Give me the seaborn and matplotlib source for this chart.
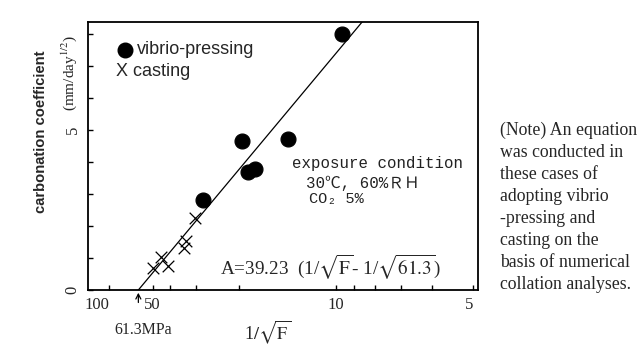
import numpy as np
import pandas as pd
import matplotlib
matplotlib.use("Agg")
import matplotlib.pyplot as plt
import seaborn as sns
from matplotlib.ticker import FixedLocator, FixedFormatter, NullFormatter

# ---- data (x = 1/sqrt(F)) ----
vp_x = [0.3218, 0.2269, 0.2708, 0.2326, 0.2390, 0.1891]
vp_y = [8.00, 4.67, 4.72, 3.68, 3.77, 2.80]
cast_x = [0.1818, 0.1732, 0.1716, 0.1497, 0.1560, 0.1420]
cast_y = [2.24, 1.53, 1.30, 1.03, 0.75, 0.68]
fit_a = 39.23
fit_f0 = 61.3
x_major_F = [100, 50, 10, 5]
x_major_labels = ["100", "50", "10", "5"]
x_minor_F = [40, 30, 20, 9, 8, 7, 6]
y_major = [0, 5]
y_major_labels = ["0", "5"]
y_minor = [1, 2, 3, 4, 6, 7, 8]
note_lines = ["(Note) An equation", "was conducted in", "these cases of",
              "adopting vibrio", "-pressing and", "casting on the",
              "basis of numerical", "collation analyses."]

sns.set_style("white")
plt.rcParams["font.family"] = ["Liberation Serif", "DejaVu Serif"]

W, H = 641, 352
fig = plt.figure(figsize=(W / 100, H / 100), dpi=100)
L, R, T, B = 87.5, 478, 22, 290
ax = fig.add_axes([L / W, 1 - B / H, (R - L) / W, (B - T) / H])

xmin, xmax = 0.0792, 0.4518
ymin, ymax = 0.0, 8.375

vp = pd.DataFrame({"x": vp_x, "y": vp_y})
ca = pd.DataFrame({"x": cast_x, "y": cast_y})
x0 = 1 / np.sqrt(fit_f0)
fit = pd.DataFrame({"x": [x0, x0 + 9.0 / fit_a]})
fit["y"] = fit_a * (fit["x"] - x0)

sns.lineplot(data=fit, x="x", y="y", color="black", lw=0.9, ax=ax)
sns.scatterplot(data=vp, x="x", y="y", marker="o", s=115, color="black",
                edgecolor="black", ax=ax, legend=False, zorder=3)
sns.scatterplot(data=ca, x="x", y="y", marker="x", s=70, color="black",
                linewidth=0.9, ax=ax, legend=False, zorder=3)

ax.set_xlim(xmin, xmax)
ax.set_ylim(ymin, ymax)
ax.set_xlabel("")
ax.set_ylabel("")
for s in ax.spines.values():
    s.set_linewidth(1.3)
    s.set_color("black")

ax.xaxis.set_major_locator(FixedLocator([1 / np.sqrt(f) for f in x_major_F]))
ax.xaxis.set_major_formatter(FixedFormatter(x_major_labels))
ax.xaxis.set_minor_locator(FixedLocator([1 / np.sqrt(f) for f in x_minor_F]))
ax.xaxis.set_minor_formatter(NullFormatter())
ax.yaxis.set_major_locator(FixedLocator(y_major))
ax.yaxis.set_major_formatter(FixedFormatter(y_major_labels))
ax.yaxis.set_minor_locator(FixedLocator(y_minor))
ax.tick_params(axis="both", which="both", direction="in", length=3.5, width=1,
               color="black", top=False, right=False, bottom=True, left=True)
ax.tick_params(axis="x", which="major", labelsize=12, pad=5)
ax.tick_params(axis="y", which="major", labelsize=12, pad=5)
for lab in ax.get_yticklabels():
    lab.set_rotation(90)
    lab.set_va("center")
for lab in ax.get_xticklabels():
    lab.set_ha("right" if lab.get_text() in ("100", "5") else "center")

# arrow at 61.3 MPa
ax.annotate("", xy=(x0, 0), xycoords="data", xytext=(0, -11),
            textcoords="offset points",
            arrowprops=dict(arrowstyle="->,head_length=0.35,head_width=0.18",
                            lw=0.9, color="black"), annotation_clip=False)


def px(x, y):
    return x / W, 1 - y / H


# legend
ax.plot([(124.5 - L) / (R - L)], [(B - 50) / (B - T)], "o", ms=10.5, color="black",
        transform=ax.transAxes, clip_on=False)
fig.text(*px(137, 50), "vibrio-pressing", family=["Liberation Sans"], fontsize=13,
         ha="left", va="center")
fig.text(*px(116, 72), "X casting", family=["Liberation Sans"], fontsize=13,
         ha="left", va="center")

mono = ["Liberation Mono", "DejaVu Sans Mono", "Noto Sans CJK JP"]
fig.text(*px(292, 163), "exposure condition", family=mono, fontsize=11.3,
         ha="left", va="center", color="#222222")
fig.text(*px(306, 183), "30℃, 60%ＲＨ", family=mono, fontsize=11.3,
         ha="left", va="center", color="#222222")
fig.text(*px(309, 199), "CO₂ 5%", family=mono, fontsize=11,
         ha="left", va="center", color="#222222")

fig.text(*px(220, 267), r"A=39.23  (1/$\sqrt{\rm F}$- 1/$\sqrt{\rm 61.3}$)",
         fontsize=13.8, math_fontfamily="stix", ha="left", va="center")

fig.text(*px(143, 330), "61.3MPa", fontsize=11.5, ha="center", va="center")
fig.text(*px(268, 332), r"1$/\sqrt{\rm F}$", fontsize=13, math_fontfamily="stix",
         ha="center", va="center")

fig.text(*px(41, 132), "carbonation coefficient", fontsize=10.6, fontweight="bold",
         family=["Liberation Sans"], rotation=90, ha="center", va="center")
fig.text(*px(69, 73), r"(mm/day$^{1/2}$)", fontsize=11, math_fontfamily="stix",
         rotation=90, ha="center", va="center")

for i, line in enumerate(note_lines):
    fig.text(*px(500, 130 + 22.1 * i), line, fontsize=12.8, ha="left", va="center")

fig.savefig("out.png", dpi=100, facecolor="white")
